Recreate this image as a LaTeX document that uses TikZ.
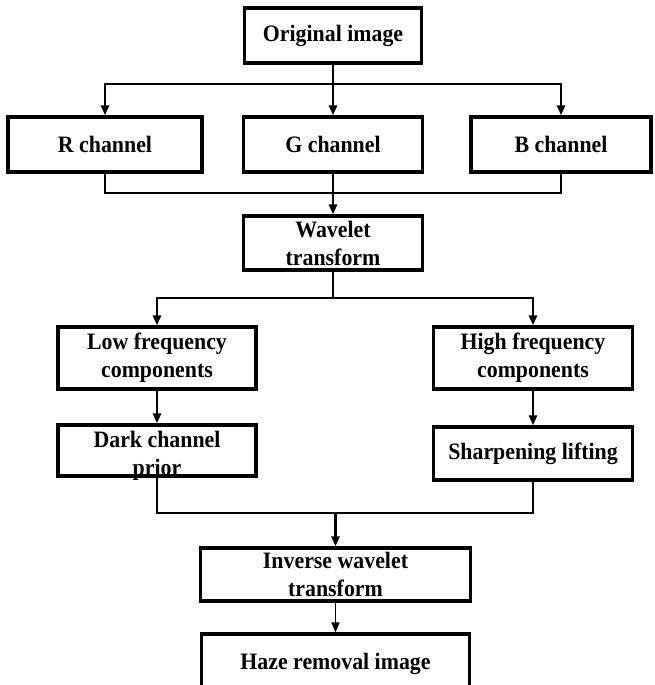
\documentclass[tikz,border=0pt]{standalone}
\usepackage{fontspec}
\setmainfont{Liberation Serif}[FakeStretch=0.93]
\usetikzlibrary{arrows.meta}
\begin{document}
\begin{tikzpicture}[x=1pt,y=-1pt,
  txt/.style={align=center, inner sep=0pt, font=\bfseries\fontsize{23.5}{28}\selectfont},
  box/.style={txt, draw, line width=3.2pt},
  conn/.style={line width=2.5pt},
  arr/.style={conn, -{Triangle[length=10pt,width=8pt]}},
]
\useasboundingbox (0,0) rectangle (655,685);
\clip (0,0) rectangle (655,685);
\fill[white] (0,0) rectangle (655,685);
\node[box, minimum width=177, minimum height=55] (orig) at (333,35.5) {Original image};
\node[box, minimum width=194, minimum height=55] (R) at (105,144.5) {R channel};
\node[box, minimum width=179, minimum height=55] (G) at (333,144.5) {G channel};
\node[box, minimum width=180, minimum height=55] (B) at (561,144.5) {B channel};
\node[box, minimum width=179, minimum height=54] (W) at (333,243) {Wavelet\\transform};
\node[box, minimum width=198, minimum height=62] (L) at (157,358) {Low frequency\\components};
\node[box, minimum width=199, minimum height=62] (H) at (533,358) {High frequency\\components};
\node[box, minimum width=198, minimum height=51] (D) at (157,450.5) {};
\node[txt] (DT) at (157,456) {Dark channel\\prior};
\node[box, minimum width=199, minimum height=53] (S) at (533,453.5) {Sharpening lifting};
\node[box, minimum width=270, minimum height=53] (I) at (335.5,574.5) {Inverse wavelet\\transform};
\node[box, minimum width=268, minimum height=60] (Z) at (335.5,664) {Haze removal image};
% connectors
\coordinate (s1) at (333,84);
\draw[arr] (orig.south) -- (G.north);
\draw[arr] (s1) -| (R.north);
\draw[arr] (s1) -| (B.north);
\coordinate (m1) at (333,193);
\draw[conn] (R.south) |- (m1) -| (B.south);
\draw[arr] (G.south) -- (W.north);
\coordinate (s2) at (333,298);
\draw[conn] (W.south) -- (s2);
\draw[arr] (s2) -| (L.north);
\draw[arr] (s2) -| (H.north);
\draw[arr] (L.south) -- (D.north);
\draw[arr] (H.south) -- (S.north);
\coordinate (m2) at (335.5,513);
\draw[conn] (D.south) |- (m2) -| (S.south);
\draw[arr, line width=3.2pt] (m2) -- (I.north);
\draw[arr, line width=1.5pt] (I.south) -- (Z.north);
\end{tikzpicture}
\end{document}
